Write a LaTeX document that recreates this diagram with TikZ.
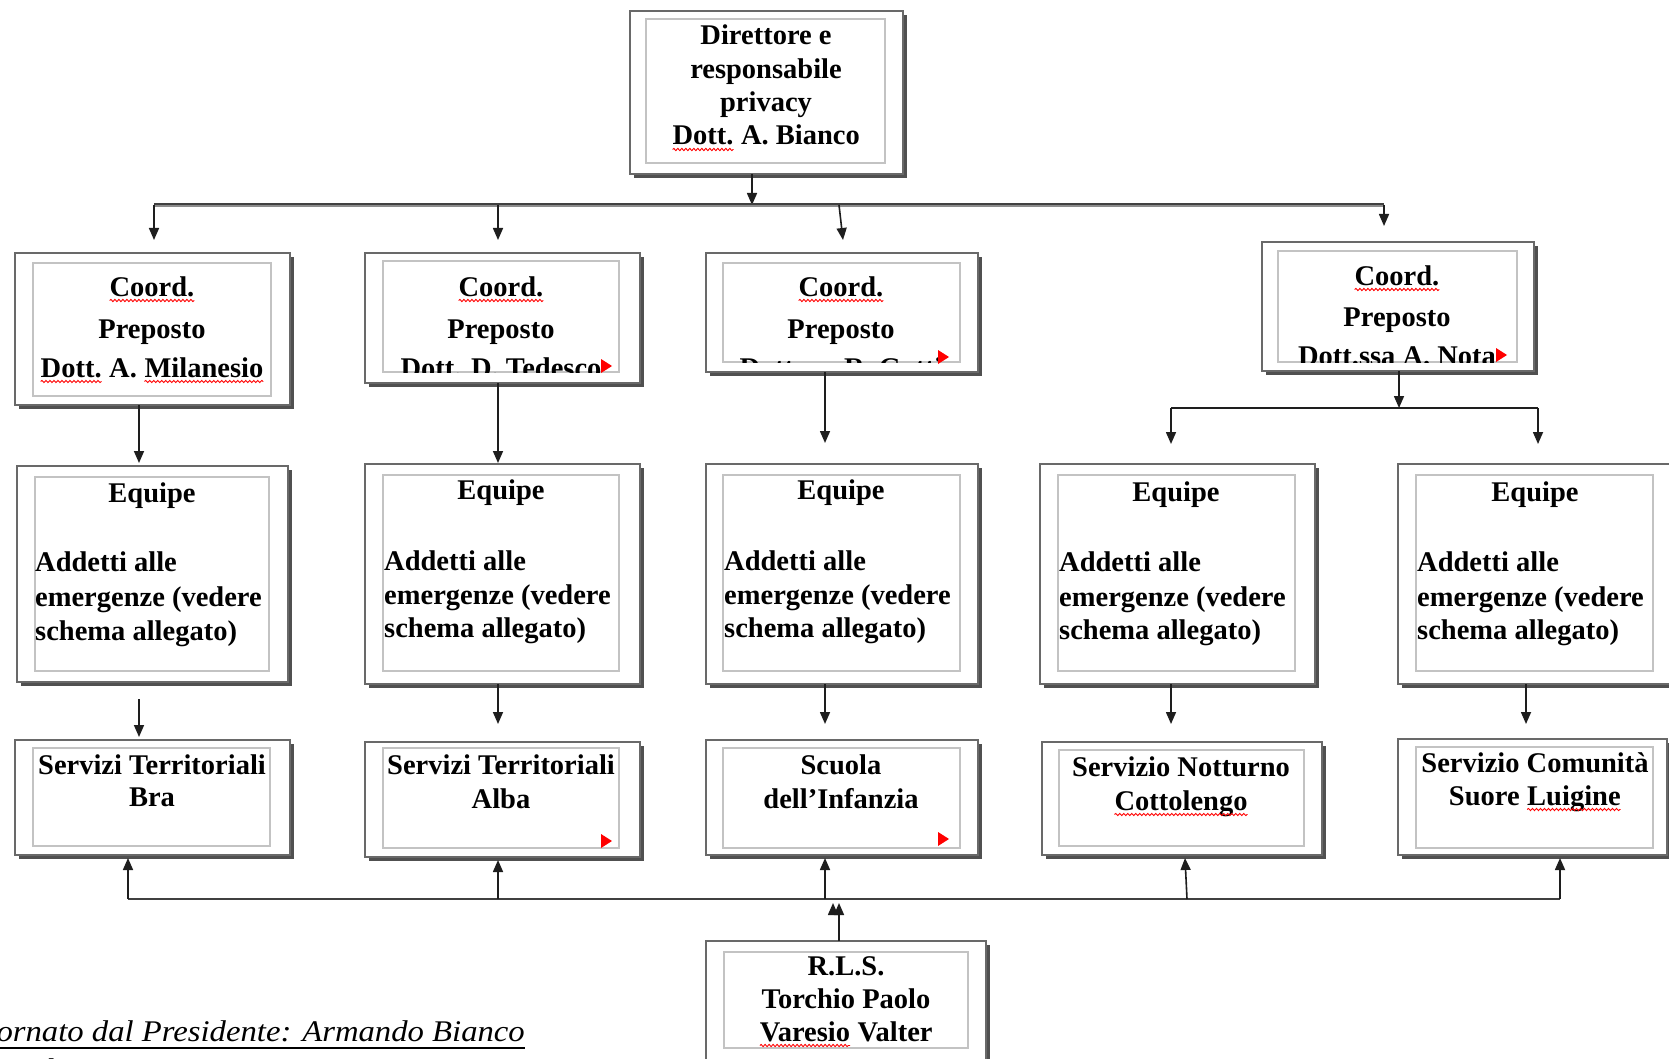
\documentclass[tikz,border=0pt]{standalone}
\usepackage{fontspec}
\setmainfont{Liberation Serif}
\newfontfamily\capfont[FakeStretch=1.09]{Liberation Serif}
\usetikzlibrary{arrows.meta,fit,decorations.pathmorphing}
\definecolor{bord}{RGB}{105,105,105}
\definecolor{shad}{RGB}{80,80,80}
\definecolor{inbord}{RGB}{195,195,195}
\definecolor{conn}{RGB}{30,30,30}
\newcommand\bxf{\fontsize{28.5}{33}\selectfont\bfseries}
\newcommand\wv[1]{\tikz[baseline=(w.base)]{\node[inner sep=0pt,outer sep=0pt,anchor=base](w){#1};\draw[red,line width=0.9pt,decorate,decoration={snake,amplitude=1.1pt,segment length=4pt}]([yshift=-4.5pt]w.base west)--([yshift=-4.5pt]w.base east);}}
\newcommand\mkbox[9]{%
  \fill[shad] (#2+4,#3+4) rectangle (#4+4,#5+4);
  \node[outerbox, fit={(#2,#3) (#4,#5)}] (#1) {};
  \node[innerbox, fit={(#6,#7) (#8,#9)}] (#1-in) {};}
\newcommand\rtri[2]{\fill[red] (#1-5,#2-7) -- (#1+6,#2) -- (#1-5,#2+7) -- cycle;}
\tikzset{
  outerbox/.style={draw=bord, line width=2pt, fill=white, inner sep=0pt, outer sep=0pt},
  innerbox/.style={draw=inbord, line width=1.4pt, inner sep=0pt, outer sep=0pt},
  tx/.style={font=\bxf, anchor=base, inner sep=0pt, text=black},
  txl/.style={font=\bxf, anchor=base west, inner sep=0pt, text=black},
  arr/.style={draw=conn, line width=1.6pt, -{Triangle[length=12pt,width=10pt]}},
  plain/.style={draw=conn, line width=1.6pt}
}
\begin{document}
\begin{tikzpicture}[x=1pt,y=-1pt]
\useasboundingbox (0,0) rectangle (1669,1059);
\fill[white] (0,0) rectangle (1669,1059);

% ---------- boxes ----------
\mkbox{top}{630}{11}{903}{174}{646}{19}{885}{163}
\mkbox{cA}{15}{253}{290}{405}{33}{263}{271}{396}
\mkbox{cB}{365}{253}{640}{383}{383}{261}{619}{372}
\mkbox{cC}{706}{253}{978}{372}{723}{263}{960}{362}
\mkbox{cD}{1262}{242}{1534}{371}{1278}{251}{1517}{362}
\mkbox{eA}{17}{466}{288}{682}{35}{477}{269}{671}
\mkbox{eB}{365}{464}{640}{684}{383}{475}{619}{671}
\mkbox{eC}{706}{464}{978}{684}{723}{475}{960}{671}
\mkbox{eD}{1040}{464}{1315}{684}{1058}{475}{1295}{671}
\mkbox{eE}{1398}{464}{1675}{684}{1416}{475}{1653}{671}
\mkbox{sA}{15}{740}{290}{855}{33}{748}{270}{846}
\mkbox{sB}{365}{742}{640}{857}{383}{748}{619}{848}
\mkbox{sC}{706}{740}{978}{855}{723}{748}{960}{848}
\mkbox{sD}{1042}{742}{1322}{855}{1059}{750}{1304}{846}
\mkbox{sE}{1398}{739}{1667}{855}{1416}{747}{1653}{848}
\mkbox{rls}{706}{941}{986}{1068}{724}{952}{968}{1048}

% ---------- texts ----------
\node[tx] (top-1) at (766,45) {Direttore e};
\node[tx] (top-2) at (766,79) {responsabile};
\node[tx] (top-3) at (766,112) {privacy};
\node[tx] (top-4) at (766,145) {\wv{Dott.} A. Bianco};

\node[tx] (cA-1) at (152,296) {\wv{Coord.}};
\node[tx] (cA-2) at (152,338) {Preposto};
\node[tx] (cA-3) at (152,377) {\wv{Dott.} A. \wv{Milanesio}};

\begin{scope}
\clip (cB-in.north west) rectangle (cB-in.south east);
\node[tx] (cB-1) at (501,296) {\wv{Coord.}};
\node[tx] (cB-2) at (501,338) {Preposto};
\node[tx] (cB-3) at (501,377) {Dott. D. Tedesco};
\end{scope}
\rtri{606}{366}

\begin{scope}
\clip (cC-in.north west) rectangle (cC-in.south east);
\node[tx] (cC-1) at (841,296) {\wv{Coord.}};
\node[tx] (cC-2) at (841,338) {Preposto};
\node[tx] (cC-3) at (841,377) {Dott.ssa R. Gatti};
\end{scope}
\rtri{943}{357}

\begin{scope}
\clip (cD-in.north west) rectangle (cD-in.south east);
\node[tx] (cD-1) at (1397,285) {\wv{Coord.}};
\node[tx] (cD-2) at (1397,326) {Preposto};
\node[tx] (cD-3) at (1397,365) {Dott.ssa A. Nota};
\end{scope}
\rtri{1501}{355}

\node[tx] (eA-1) at (152,502) {Equipe};
\node[txl] (eA-2) at (35,571) {Addetti alle};
\node[txl] (eA-3) at (35,606) {emergenze (vedere};
\node[txl] (eA-4) at (35,640) {schema allegato)};

\node[tx] (eB-1) at (501,499) {Equipe};
\node[txl] (eB-2) at (384,570) {Addetti alle};
\node[txl] (eB-3) at (384,604) {emergenze (vedere};
\node[txl] (eB-4) at (384,637) {schema allegato)};

\node[tx] (eC-1) at (841,499) {Equipe};
\node[txl] (eC-2) at (724,570) {Addetti alle};
\node[txl] (eC-3) at (724,604) {emergenze (vedere};
\node[txl] (eC-4) at (724,637) {schema allegato)};

\node[tx] (eD-1) at (1176,501) {Equipe};
\node[txl] (eD-2) at (1059,571) {Addetti alle};
\node[txl] (eD-3) at (1059,606) {emergenze (vedere};
\node[txl] (eD-4) at (1059,639) {schema allegato)};

\node[tx] (eE-1) at (1535,501) {Equipe};
\node[txl] (eE-2) at (1417,571) {Addetti alle};
\node[txl] (eE-3) at (1417,606) {emergenze (vedere};
\node[txl] (eE-4) at (1417,639) {schema allegato)};

\node[tx] (sA-1) at (152,774) {Servizi Territoriali};
\node[tx] (sA-2) at (152,806) {Bra};
\node[tx] (sB-1) at (501,774) {Servizi Territoriali};
\node[tx] (sB-2) at (501,808) {Alba};
\rtri{606}{841}
\node[tx] (sC-1) at (841,774) {Scuola};
\node[tx] (sC-2) at (841,808) {dell’Infanzia};
\rtri{943}{839}
\node[tx] (sD-1) at (1181,776) {Servizio Notturno};
\node[tx] (sD-2) at (1181,810) {\wv{Cottolengo}};
\node[tx] (sE-1) at (1535,772) {Servizio Comunità};
\node[tx] (sE-2) at (1535,805) {Suore \wv{Luigine}};

\node[tx] (rls-1) at (846,975) {R.L.S.};
\node[tx] (rls-2) at (846,1008) {Torchio Paolo};
\node[tx] (rls-3) at (846,1041) {\wv{Varesio} Valter};

\node[anchor=base east, inner sep=0pt, font=\capfont\itshape\fontsize{30}{34}\selectfont] (cap) at (525,1041) {ornato dal Presidente: Armando Bianco};
\draw[line width=1.5pt] ([yshift=-7pt]cap.base west) -- ([yshift=-7pt]cap.base east);
\node[anchor=base west, inner sep=0pt, font=\capfont\itshape\fontsize{30}{34}\selectfont] (date) at (36,1079) {il 11/03/2010};

% ---------- connectors ----------
\coordinate (tj) at (752,205);
\coordinate (tl) at (154,205);
\coordinate (tr) at (1384,205);
\draw[arr] (top.south -| tj) -- (tj);
\draw[line width=4pt, black!45] (tl) -- (tr);
\draw[line width=1.2pt, black!75] ([yshift=1pt]tl) -- ([yshift=1pt]tr);
\coordinate (ta) at (154,240);
\coordinate (tb0) at (498,205); \coordinate (tb) at (498,240);
\coordinate (tc0) at (839,205); \coordinate (tc) at (843,240);
\coordinate (td) at (1384,226);
\draw[arr] (tl) -- (ta);
\draw[arr] (tb0) -- (tb);
\draw[arr] (tc0) -- (tc);
\draw[arr] (tr) -- (td);

\coordinate (ca) at (139,463);
\coordinate (cb) at (498,463);
\coordinate (cc) at (825,443);
\coordinate (dj) at (1399,408);
\draw[arr] (cA.south -| ca) -- (ca);
\draw[arr] (cB.south -| cb) -- (cb);
\draw[arr] (cC.south -| cc) -- (cc);
\draw[arr] (cD.south -| dj) -- (dj);
\coordinate (dl) at (1171,408);
\coordinate (dr) at (1538,408);
\draw[plain] (dl) -- (dr);
\coordinate (dl2) at (1171,444);
\coordinate (dr2) at (1538,444);
\draw[arr] (dl) -- (dl2);
\draw[arr] (dr) -- (dr2);

\coordinate (ea0) at (139,699); \coordinate (ea) at (139,737);
\coordinate (eb) at (498,724);
\coordinate (ec) at (825,724);
\coordinate (ed) at (1171,724);
\coordinate (ee) at (1526,724);
\draw[arr] (ea0) -- (ea);
\draw[arr] (eB.south -| eb) -- (eb);
\draw[arr] (eC.south -| ec) -- (ec);
\draw[arr] (eD.south -| ed) -- (ed);
\draw[arr] (eE.south -| ee) -- (ee);

\coordinate (bl) at (128,899);
\coordinate (br) at (1560,899);
\draw[draw=black!75, line width=1.8pt] (bl) -- (br);
\coordinate (ub) at (498,899);
\coordinate (uc) at (825,899);
\coordinate (ud) at (1187,899);
\draw[arr] (bl) -- ([yshift=-3pt]sA.south -| bl);
\draw[arr] (ub) -- ([yshift=-3pt]sB.south -| ub);
\draw[arr] (uc) -- ([yshift=-3pt]sC.south -| uc);
\draw[arr] (ud) -- ([yshift=-3pt]sD.south -| 1185,0);
\draw[arr] (br) -- ([yshift=-3pt]sE.south -| br);
\coordinate (rt) at (839,903);
\coordinate (rt2) at (833,903);
\draw[arr] (rls.north -| rt) -- (rt);
\draw[arr] (833,914) -- (rt2);
\end{tikzpicture}
\end{document}
